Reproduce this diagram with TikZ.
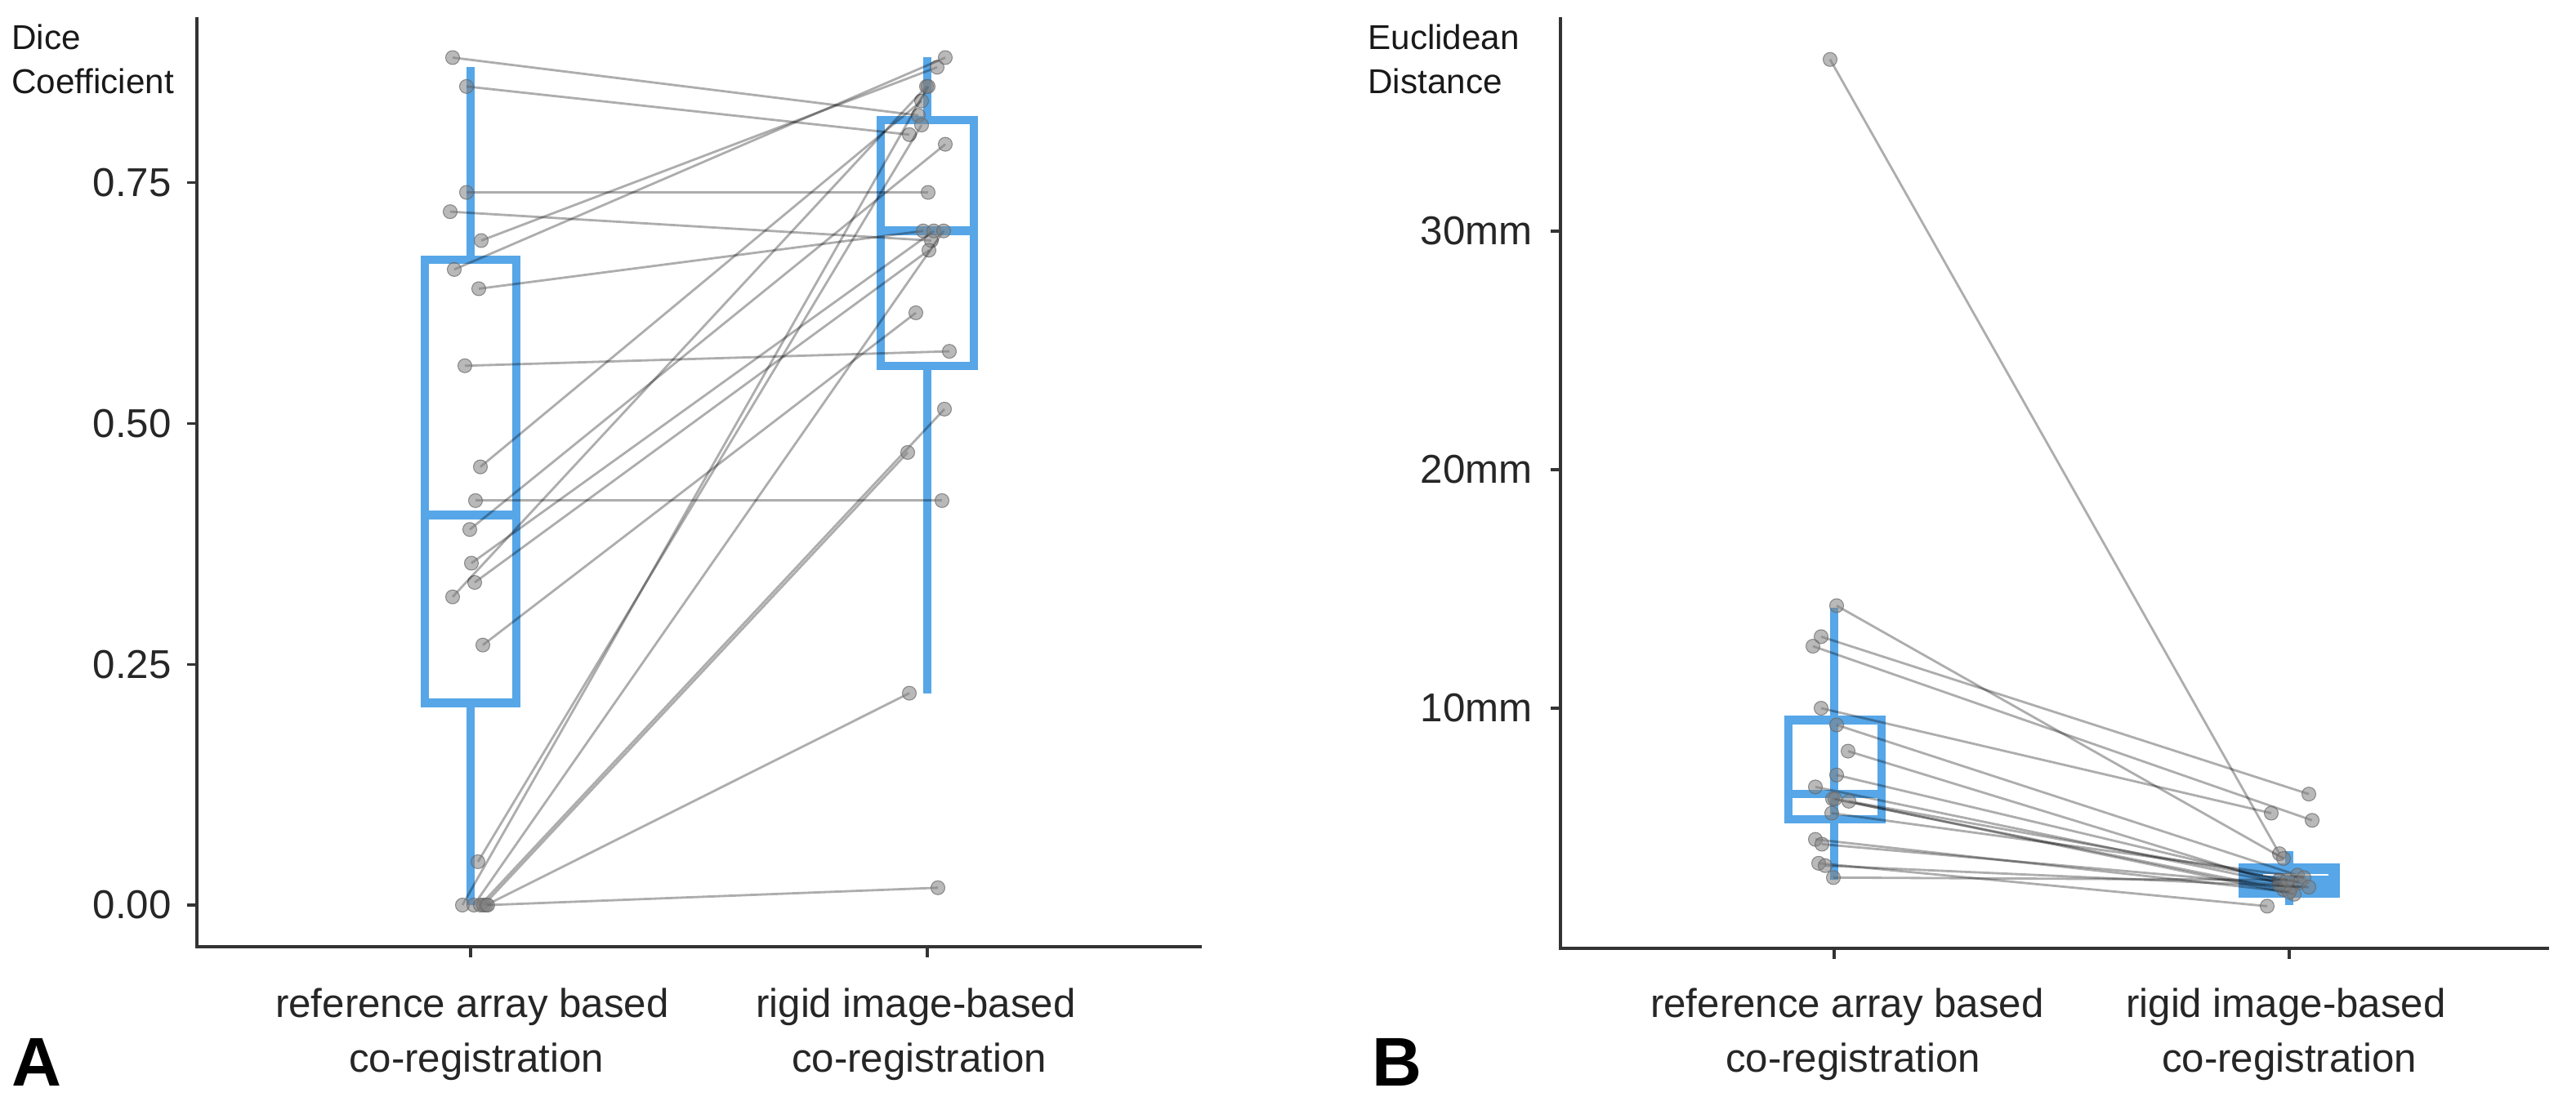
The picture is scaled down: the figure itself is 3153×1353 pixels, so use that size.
\documentclass[tikz,border=0pt]{standalone}
\usepackage{fontspec}
\setmainfont{Liberation Sans}
\begin{document}
\begin{tikzpicture}[x=0.01cm,y=-0.01cm,
  ax/.style={draw=black!80,line width=0.9pt},
  tk/.style={font=\fontsize{14}{16}\selectfont,text=black!85,anchor=east},
  cat/.style={font=\fontsize{14}{17}\selectfont,text=black!85},
  ttl/.style={font=\fontsize{12}{14}\selectfont,anchor=west,text=black!90},
  pan/.style={font=\fontsize{24}{26}\selectfont\bfseries},
  bx/.style={draw=boxblue,line width=3pt},
  pair/.style={draw=black,opacity=0.32,line width=0.8pt},
  pt/.style={fill=black!50,draw=black!60,line width=0.3pt,fill opacity=0.55,draw opacity=0.7}]
\definecolor{boxblue}{RGB}{86,166,232}
\useasboundingbox (0,0) rectangle (3153,1353);
% ---------- Panel A ----------
\draw[ax] (241,21) -- (241,1159) -- (1471,1159);
\foreach \v/\l in {0/0.00,0.25/0.25,0.5/0.50,0.75/0.75}{
  \draw[ax] (229,{1108-1179*\v}) -- (241,{1108-1179*\v});
  \node[tk] at (222,{1108-1179*\v}) {\l};}
\draw[ax] (576,1159) -- (576,1172);
\draw[ax] (1135,1159) -- (1135,1172);
\node[ttl] (ta) at (2,45) {Dice};
\node[ttl] (tb) at (2,99) {Coefficient};
\node[cat] (ca1) at (578,1233) {reference array based};
\node[cat] (ca2) at (583,1300) {co-registration};
\node[cat] (cb1) at (1121,1233) {rigid image-based};
\node[cat] (cb2) at (1125,1300) {co-registration};
\node[pan] (pa) at (45,1300) {A};
% boxes A
\draw[bx,line width=2.6pt] (576,{1108-1179*0.87}) -- (576,{1108-1179*0.67});
\draw[bx,line width=2.6pt] (576,{1108-1179*0.21}) -- (576,1108);
\draw[bx] (520,{1108-1179*0.67}) rectangle (632,{1108-1179*0.21});
\draw[bx] (520,{1108-1179*0.405}) -- (632,{1108-1179*0.405});
\draw[bx,line width=2.6pt] (1135,{1108-1179*0.88}) -- (1135,{1108-1179*0.815});
\draw[bx,line width=2.6pt] (1135,{1108-1179*0.56}) -- (1135,{1108-1179*0.22});
\draw[bx] (1078,{1108-1179*0.815}) rectangle (1192,{1108-1179*0.56});
\draw[bx] (1078,{1108-1179*0.70}) -- (1192,{1108-1179*0.70});
\foreach \lx/\lv/\rx/\rv in {554/0.88/1124/0.82,571/0.85/1113/0.80,571/0.74/1136/0.74,551/0.72/1140/0.69,589/0.69/1147/0.87,556/0.66/1157/0.88,586/0.64/1130/0.70,569/0.56/1162/0.575,588/0.455/1128/0.835,582/0.42/1153/0.42,575/0.39/1157/0.79,577/0.355/1143/0.70,581/0.335/1137/0.68,554/0.32/1134/0.85,591/0.27/1121/0.615,585/0.045/1128/0.81,566/0/1136/0.85,580/0/1155/0.70,588/0/1156/0.515,592/0/1111/0.47,595/0/1113/0.22,597/0/1148/0.018}{
  \coordinate (l) at (\lx,{1108-1179*\lv});
  \coordinate (r) at (\rx,{1108-1179*\rv});
  \draw[pair] (l) -- (r);
  \path[pt] (l) circle (8.5);
  \path[pt] (r) circle (8.5);}
% ---------- Panel B ----------
\draw[ax] (1910,21) -- (1910,1161) -- (3120,1161);
\foreach \v in {10,20,30}{
  \draw[ax] (1898,{1159-29.2*\v}) -- (1910,{1159-29.2*\v});
  \node[tk] at (1888,{1159-29.2*\v}) {\v mm};}
\draw[ax] (2245,1161) -- (2245,1174);
\draw[ax] (2802,1161) -- (2802,1174);
\node[ttl] (tc) at (1662,45) {Euclidean};
\node[ttl] (td) at (1662,99) {Distance};
\node[cat] (cc1) at (2261,1233) {reference array based};
\node[cat] (cc2) at (2268,1300) {co-registration};
\node[cat] (cd1) at (2798,1233) {rigid image-based};
\node[cat] (cd2) at (2802,1300) {co-registration};
\node[pan] (pb) at (1710,1300) {B};
% boxes B
\draw[bx,line width=2.6pt] (2245,{1159-29.2*14.2}) -- (2245,{1159-29.2*2.8});
\draw[bx] (2189,{1159-29.2*9.5}) rectangle (2303,{1159-29.2*5.35});
\draw[bx] (2189,{1159-29.2*6.4}) -- (2303,{1159-29.2*6.4});
\draw[bx,line width=2.6pt] (2802,1042) -- (2802,1108);
\draw[bx,fill=boxblue] (2745,1062) rectangle (2859,1094);
\draw[white,line width=0.8pt] (2770,1071) -- (2850,1071);
\foreach \lx/\lv/\rx/\rv in {2240/37.2/2790/3.9,2248/14.3/2795/3.7,2229/13.0/2826/6.4,2219/12.6/2830/5.3,2229/10.0/2780/5.6,2248/9.3/2812/3.0,2262/8.2/2805/2.5,2248/7.2/2790/2.8,2222/6.7/2800/2.6,2243/6.2/2795/2.4,2246/6.2/2808/2.2,2263/6.1/2815/2.7,2242/5.6/2820/2.9,2222/4.5/2802/2.3,2230/4.3/2790/2.6,2226/3.5/2775/1.7,2234/3.4/2826/2.5,2244/2.9/2800/2.8}{
  \coordinate (l) at (\lx,{1159-29.2*\lv});
  \coordinate (r) at (\rx,{1159-29.2*\rv});
  \draw[pair] (l) -- (r);
  \path[pt] (l) circle (8.5);
  \path[pt] (r) circle (8.5);}
\end{tikzpicture}
\end{document}
